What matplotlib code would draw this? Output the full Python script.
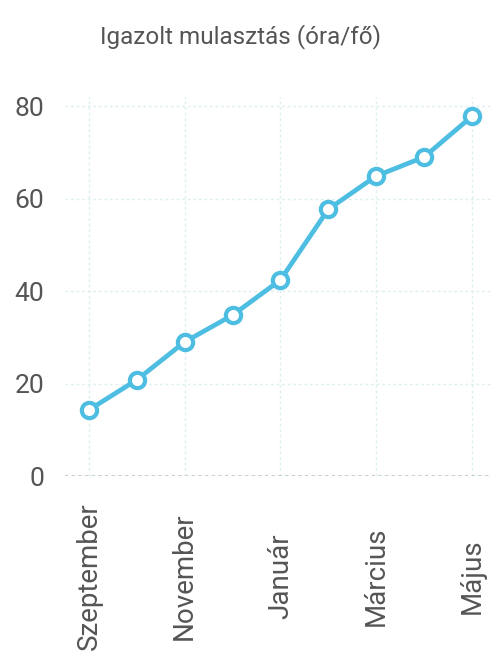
import matplotlib.pyplot as plt

# monthly values, September to May
months = ['Szeptember', 'Október', 'November', 'December', 'Január',
          'Február', 'Március', 'Április', 'Május']
hours = [14.3, 20.8, 29.0, 34.8, 42.4, 57.7, 64.9, 69.0, 77.8]
y_ticks = [0, 20, 40, 60, 80]

plt.rcParams['font.family'] = ['Roboto', 'DejaVu Sans']

fig = plt.figure(figsize=(4.91, 6.54), dpi=100)
ax = fig.add_axes([65 / 491, 178 / 654, 1 - 65 / 491, (476 - 97) / 654])

xs = list(range(len(months)))
ax.plot(xs, hours, color='#4dbde2', linewidth=3.4, marker='o', markersize=11,
        markerfacecolor='white', markeredgecolor='#4dbde2', markeredgewidth=3,
        zorder=3, clip_on=False)

ax.set_xlim(-0.5, 8.4)
ax.set_ylim(0, 82)
ax.set_yticks(y_ticks)
ax.set_xticks(xs[::2])
ax.set_xticklabels(months[::2], rotation=90, va='center', ha='center')

ax.grid(True, color='#deeff0', linestyle=(0, (2, 2)), linewidth=1)
ax.axhline(0, color='#b8c8cc', linestyle=(0, (2, 2)), linewidth=1.2)
for s in ax.spines.values():
    s.set_visible(False)
ax.tick_params(axis='y', length=0, labelsize=19, labelcolor='#555555', pad=15)
ax.tick_params(axis='x', length=0, labelsize=20, labelcolor='#555555', pad=72)

fig.text(241 / 491, 1 - 37 / 654, 'Igazolt mulasztás (óra/fő)', ha='center',
         va='center', fontsize=17.5, color='#555555')

fig.savefig('out.png', dpi=100)
